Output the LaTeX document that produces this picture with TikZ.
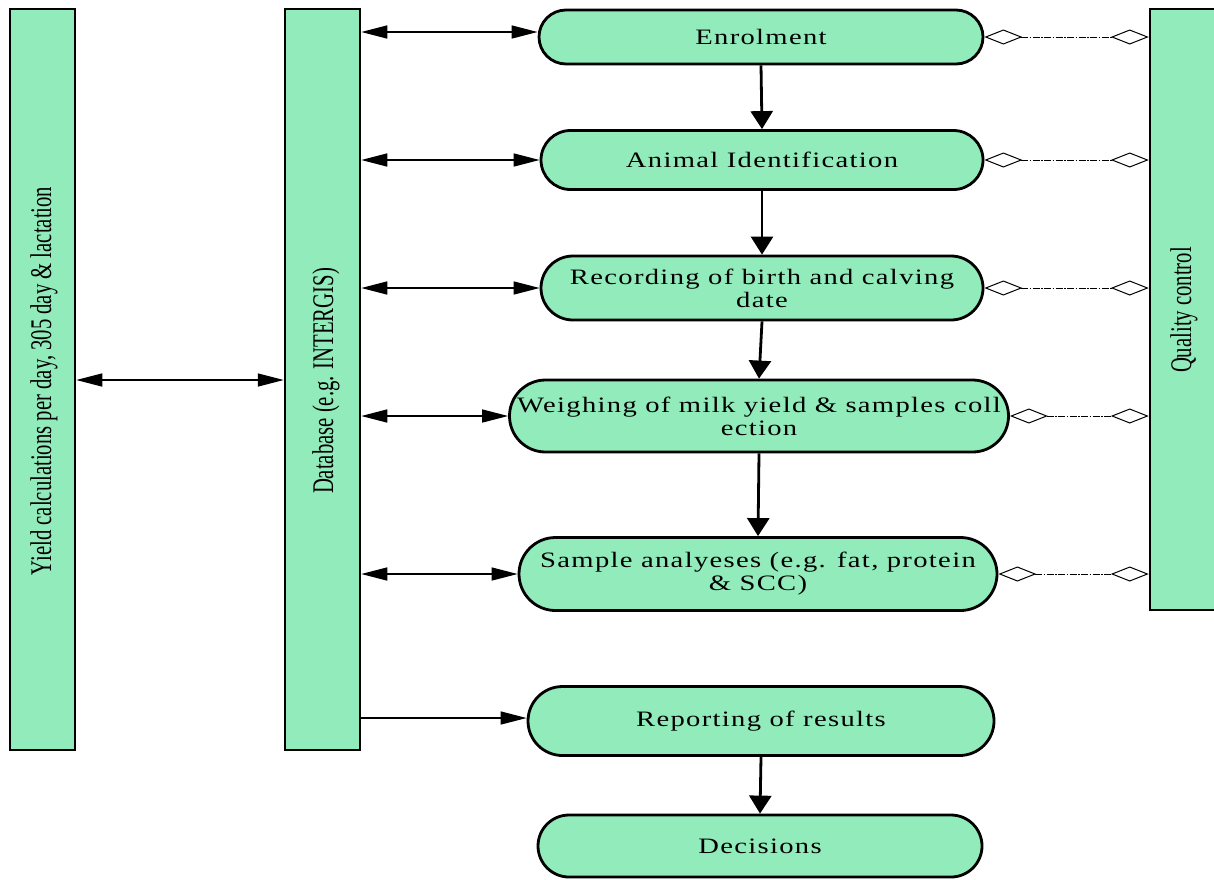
\documentclass[tikz,border=0pt]{standalone}
\usepackage{fontspec}
\setmainfont{Liberation Serif}
\newfontfamily\wfont[FakeStretch=1.3,LetterSpace=6]{Liberation Serif}
\newfontfamily\nfont[FakeStretch=0.69]{Liberation Serif}
\usetikzlibrary{shapes.misc,arrows.meta}
\definecolor{boxgreen}{RGB}{146,235,187}
\tikzset{
  bar/.style={draw=black, line width=2.5pt, fill=boxgreen, inner sep=0pt},
  bartext/.style={rotate=90, font=\nfont\fontsize{30}{32}\selectfont, inner sep=0pt},
  stadium/.style={rounded rectangle, draw=black, line width=2.8pt, fill=boxgreen,
    minimum height=56pt, align=center, inner sep=2pt,
    font=\wfont\fontsize{22}{23}\selectfont},
  harrow/.style={line width=1.5pt, {Triangle[length=26pt,width=13pt]}-{Triangle[length=26pt,width=13pt]}},
  sarrow/.style={line width=1.5pt, -{Triangle[length=26pt,width=13pt]}},
  varrow/.style={line width=2.8pt, -{Triangle[length=18pt,width=22pt]}},
  qline/.style={line width=0.9pt, dash pattern=on 7pt off 1.5pt on 1.5pt off 1.5pt,
    {Diamond[open,length=38pt,width=15pt,line width=1pt]}-{Diamond[open,length=38pt,width=15pt,line width=1pt]}},
}
\begin{document}
\begin{tikzpicture}[x=1pt,y=-1pt]
\useasboundingbox (0,0) rectangle (1214,879);
% side bars
\node[bar, minimum width=65pt, minimum height=741pt] (yield) at (42.5,379.5) {};
\node[bartext] (yieldt) at (44,381) {Yield calculations per day, 305 day \& lactation};
\node[bar, minimum width=75pt, minimum height=741pt] (db) at (322.5,379.5) {};
\node[bartext] (dbt) at (326,381) {Database (e.g. INTERGIS)};
\node[bar, minimum width=66pt, minimum height=601pt] (qc) at (1183,309.5) {};
\node[bartext] (qct) at (1184,310) {Quality control};
% process nodes
\node[stadium, minimum width=448pt, minimum height=54pt] (en) at (761,37) {Enrolment};
\node[stadium, minimum width=446pt, minimum height=59pt] (ai) at (762,160) {Animal Identification};
\node[stadium, minimum width=446pt, minimum height=64pt] (rb) at (762,288) {Recording of birth and calving\\date};
\node[stadium, minimum width=480pt, minimum height=72pt] (wm) at (759,416) {Weighing of milk yield \& samples coll\\ection};
\node[stadium, minimum width=482pt, minimum height=73pt] (sa) at (758,574) {Sample analyeses (e.g. fat, protein\\\& SCC)};
\node[stadium, minimum width=470pt, minimum height=69pt] (rr) at (761,721) {Reporting of results};
\node[stadium, minimum width=448pt, minimum height=62pt] (de) at (760,846) {Decisions};
% vertical flow
\draw[varrow] (en.south) -- (ai.north);
\draw[varrow] (ai.south) -- (rb.north);
\draw[varrow] (rb.south) -- (wm.north);
\draw[varrow] (wm.south) -- (sa.north);
\draw[varrow] (rr.south) -- (de.north);
% database links
\draw[harrow] ([yshift=5pt]db.east |- en.west) -- ([yshift=5pt]en.west);
\draw[harrow] (db.east |- ai.west) -- (ai.west);
\draw[harrow] (db.east |- rb.west) -- (rb.west);
\draw[harrow] (db.east |- wm.west) -- (wm.west);
\draw[harrow] (db.east |- sa.west) -- (sa.west);
\draw[sarrow] ([yshift=3pt]db.east |- rr.west) -- ([yshift=3pt]rr.west);
\draw[harrow] (yield.east |- 0,380) -- (db.west |- 0,380);
% quality control links
\draw[qline] (en.east) -- (qc.west |- en.east);
\draw[qline] (ai.east) -- (qc.west |- ai.east);
\draw[qline] (rb.east) -- (qc.west |- rb.east);
\draw[qline] (wm.east) -- (qc.west |- wm.east);
\draw[qline] (sa.east) -- (qc.west |- sa.east);
\end{tikzpicture}
\end{document}
